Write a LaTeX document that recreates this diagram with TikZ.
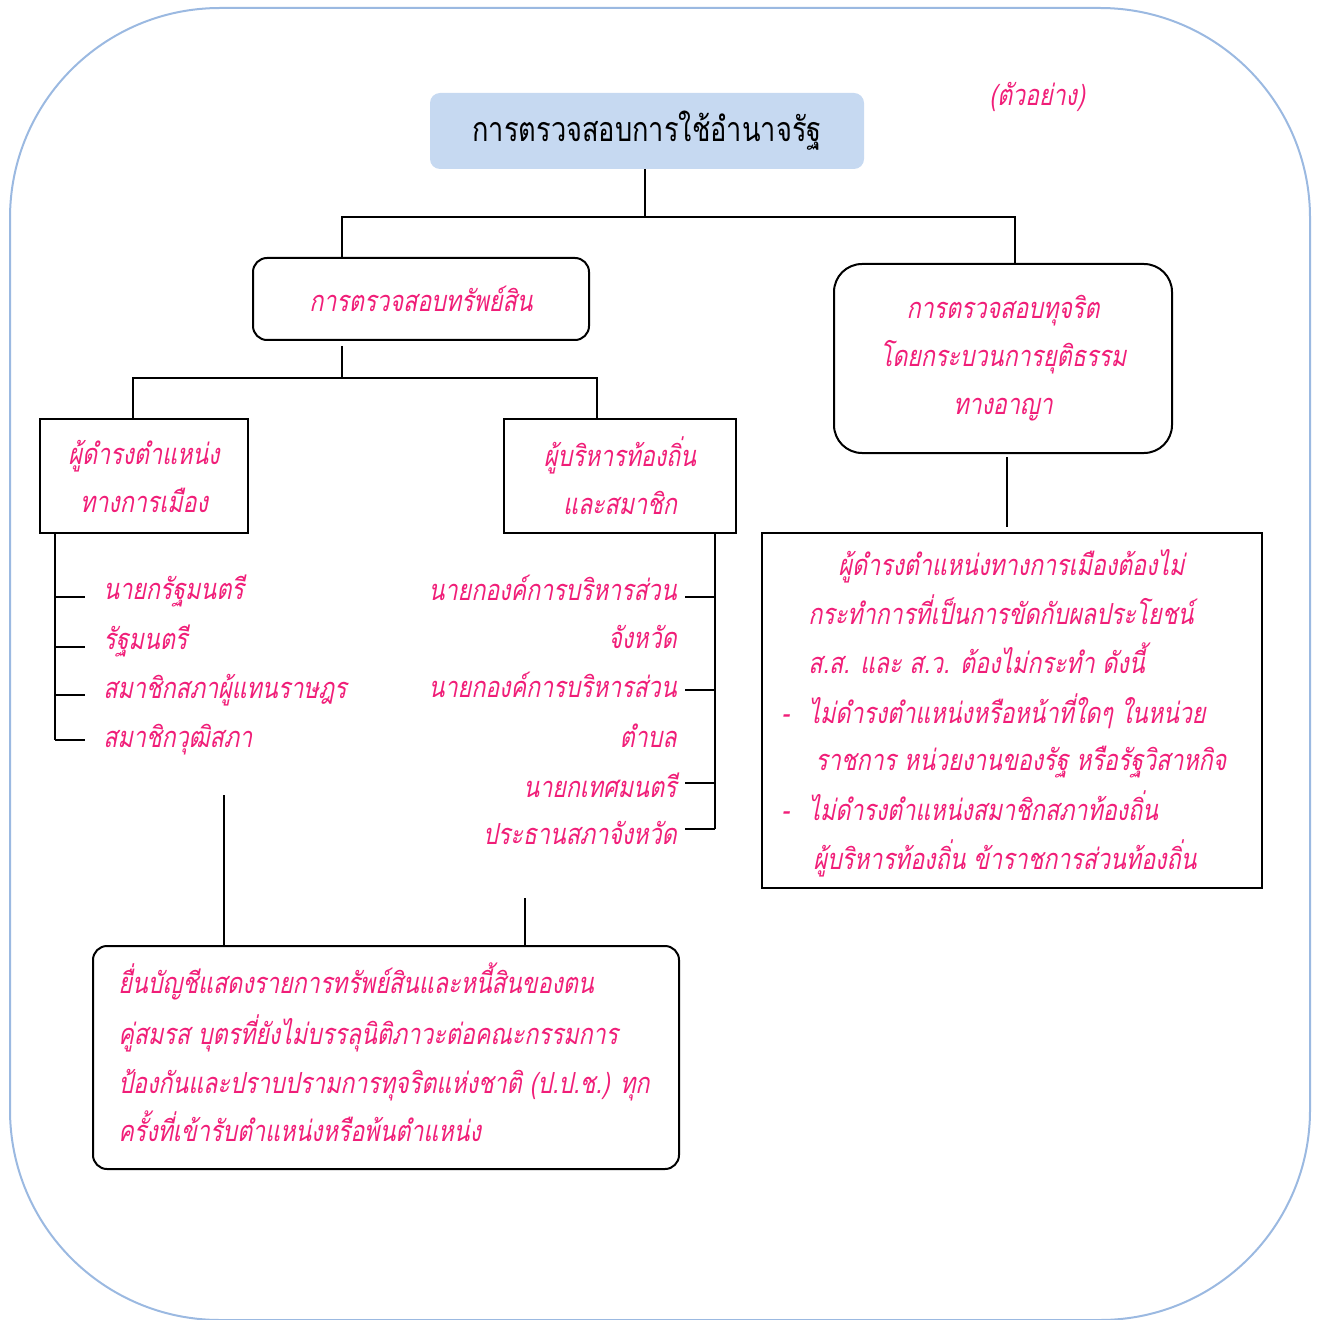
\documentclass[tikz,border=0pt]{standalone}
\usepackage{fontspec}
\usepackage{xcolor}
\usepackage{tikz}
\newfontfamily\thaifont[Script=Thai,FakeStretch=0.8]{Loma}
\newfontfamily\thaislant[Script=Thai,FakeSlant=0.2,FakeStretch=0.8]{Loma}
\definecolor{pinktext}{RGB}{240,30,120}
\definecolor{titlefill}{RGB}{198,217,241}
\definecolor{frameblue}{RGB}{155,185,225}

\tikzset{
  pinklabel/.style={text=pinktext, inner sep=0pt, font=\thaislant\fontsize{14.5}{24}\selectfont},
  itemtext/.style={pinklabel, yshift=-2pt},
  titlebox/.style={fill=titlefill, rounded corners=5pt, minimum width=217pt, minimum height=38pt,
    font=\thaifont\fontsize{17}{20}\selectfont},
  roundbox/.style={pinklabel, draw=black, line width=1pt, rounded corners=7pt, align=center},
  sqbox/.style={pinklabel, draw=black, line width=1pt, align=center},
  link/.style={line width=1pt}
}

\begin{document}
\begin{tikzpicture}[x=0.5pt, y=-0.5pt]
  \useasboundingbox (0,0) rectangle (1318,1320);

  % Define the outer frame
  \draw[frameblue, line width=1pt, rounded corners=105pt] (10,8) rectangle (1310,1320);

  % Define the title and the note
  \node[titlebox] (title) at (647,131) {การตรวจสอบการใช้อำนาจรัฐ};
  \node[pinklabel] (example) at (1037,97) {(ตัวอย่าง)};

  % Define the two branches
  \node[roundbox, minimum width=168pt, minimum height=41pt] (assets) at (421,299) {การตรวจสอบทรัพย์สิน};
  \node[roundbox, rounded corners=14pt, minimum width=169pt, minimum height=94.5pt] (corrupt) at (1003,358.5)
    {การตรวจสอบทุจริต\\โดยกระบวนการยุติธรรม\\ทางอาญา};

  \coordinate (topjoin) at (645,217);
  \draw[link] (title.south -| topjoin) -- (topjoin);
  \draw[link] (assets.north -| 342,0) -- (342,217) -| (corrupt.north -| 1015,0);

  % Define the persons under the asset check
  \node[sqbox, minimum width=104pt, minimum height=57pt] (political) at (144,476) {ผู้ดำรงตำแหน่ง\\ทางการเมือง};
  \node[sqbox, minimum width=116pt, minimum height=57pt] (local) at (620,476) {ผู้บริหารท้องถิ่น\\และสมาชิก};

  \coordinate (assetjoin) at (342,378);
  \draw[link] ([yshift=-2.5pt]assets.south -| assetjoin) -- (assetjoin);
  \draw[link] (political.north -| 133,0) -- (133,378) -| (local.north -| 597,0);

  % Define the political office holders
  \foreach \txt/\ty/\tk [count=\i] in {นายกรัฐมนตรี/591/597, รัฐมนตรี/641/647,
      สมาชิกสภาผู้แทนราษฎร/690/695, สมาชิกวุฒิสภา/739/740} {
    \node[itemtext, anchor=mid west] (pol\i) at (103,\ty) {\txt};
    \coordinate (poltick\i) at (55,\tk);
    \draw[link] (poltick\i) -- ++(15pt,0);
  }
  \draw[link] (political.south -| poltick1) -- (poltick4);

  % Define the local administrators
  \foreach \txt/\ty [count=\i] in {นายกองค์การบริหารส่วน/592, จังหวัด/640, นายกองค์การบริหารส่วน/689,
      ตำบล/739, นายกเทศมนตรี/789, ประธานสภาจังหวัด/836} {
    \node[itemtext, anchor=mid east] (loc\i) at (677,\ty) {\txt};
  }
  \foreach \tk [count=\i] in {597, 690, 783, 829} {
    \coordinate (loctick\i) at (715,\tk);
    \draw[link] (loctick\i) -- ++(-15pt,0);
  }
  \draw[link] (local.south -| loctick1) -- (loctick4);

  % Define the conflict of interest box
  \node[sqbox, minimum width=250pt, minimum height=177.5pt] (conflict) at (1012,710.5) {};
  \draw[link] ([yshift=-1.5pt]corrupt.south -| 1007,0) -- ([yshift=2.5pt]conflict.north -| 1007,0);
  \node[itemtext, anchor=mid west] (c1) at (838,567) {ผู้ดำรงตำแหน่งทางการเมืองต้องไม่};
  \node[itemtext, anchor=mid west] (c2) at (808,616) {กระทำการที่เป็นการขัดกับผลประโยชน์};
  \node[itemtext, anchor=mid west] (c3) at (808,665) {ส.ส. และ ส.ว. ต้องไม่กระทำ ดังนี้};
  \node[itemtext, anchor=mid west] (d1) at (781,715) {-};
  \node[itemtext, anchor=mid west] (c4) at (808,715) {ไม่ดำรงตำแหน่งหรือหน้าที่ใดๆ ในหน่วย};
  \node[itemtext, anchor=mid west] (c5) at (815,762) {ราชการ หน่วยงานของรัฐ หรือรัฐวิสาหกิจ};
  \node[itemtext, anchor=mid west] (d2) at (781,812) {-};
  \node[itemtext, anchor=mid west] (c6) at (808,812) {ไม่ดำรงตำแหน่งสมาชิกสภาท้องถิ่น};
  \node[itemtext, anchor=mid west] (c7) at (813,861) {ผู้บริหารท้องถิ่น ข้าราชการส่วนท้องถิ่น};

  % Define the declaration box
  \node[roundbox, minimum width=293pt, minimum height=111.5pt] (declare) at (386,1057.5) {};
  \draw[link] (224,795) -- (declare.north -| 224,0);
  \draw[link] (525,898) -- (declare.north -| 525,0);
  \node[itemtext, anchor=mid west] (f1) at (118,985) {ยื่นบัญชีแสดงรายการทรัพย์สินและหนี้สินของตน};
  \node[itemtext, anchor=mid west] (f2) at (118,1036) {คู่สมรส บุตรที่ยังไม่บรรลุนิติภาวะต่อคณะกรรมการ};
  \node[itemtext, anchor=mid west] (f3) at (118,1085) {ป้องกันและปราบปรามการทุจริตแห่งชาติ (ป.ป.ช.) ทุก};
  \node[itemtext, anchor=mid west] (f4) at (118,1133) {ครั้งที่เข้ารับตำแหน่งหรือพ้นตำแหน่ง};
\end{tikzpicture}
\end{document}
